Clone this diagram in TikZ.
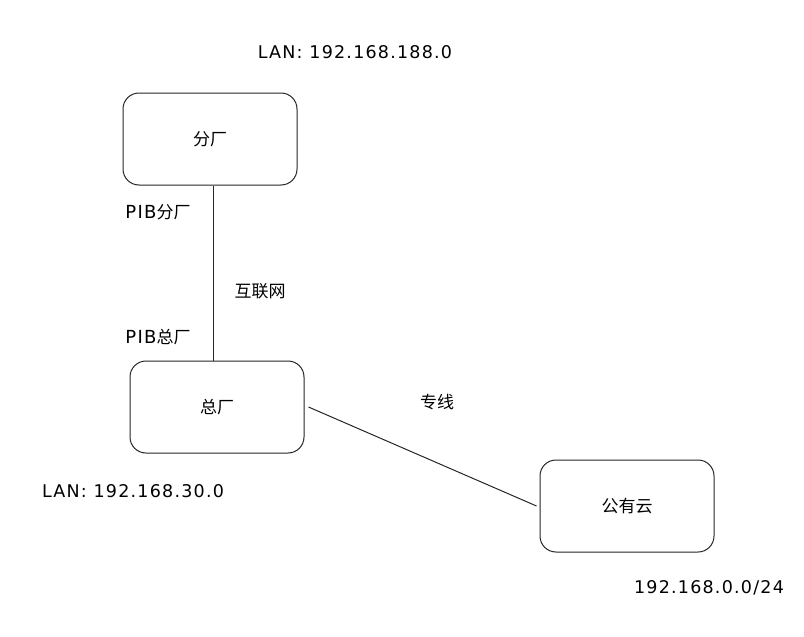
\documentclass[tikz,border=0pt]{standalone}
\usepackage{fontspec}
\setmainfont{Noto Sans CJK SC}
\newfontfamily\handfont[LetterSpace=7]{DejaVu Sans}

\begin{document}
\begin{tikzpicture}[x=1pt, y=-1pt,
    site/.style={rectangle, rounded corners=16pt, draw=black!85, line width=1pt,
        fill=white, minimum width=174pt, minimum height=92pt, inner sep=0pt,
        font=\fontsize{17}{20}\selectfont},
    tag/.style={font=\fontsize{17}{20}\selectfont, inner sep=0pt},
    ip/.style={font=\fontsize{17.5}{20}\handfont, inner sep=0pt},
    link/.style={line width=1pt, draw=black!85, -}
]
    \useasboundingbox (0,0) rectangle (804,637);
    \node[site] (branch) at (210,139) {分厂};
    \node[site] (hq) at (217,407) {总厂};
    \node[site] (cloud) at (627,506) {公有云};
    \node[ip] (lanbranch) at (355,52) {LAN: 192.168.188.0};
    \node[tag] (pibbranch) at (158,212) {{\fontsize{18}{20}\handfont PIB}分厂};
    \node[tag] (internet) at (260,291) {互联网};
    \node[tag] (pibhq) at (158,337) {{\fontsize{18}{20}\handfont PIB}总厂};
    \node[tag] (leased) at (437,402) {专线};
    \node[ip] (lanhq) at (133,491) {LAN: 192.168.30.0};
    \node[ip] (lancloud) at (709,588) {192.168.0.0/24};
    \draw[link] (branch.south -| 213,0) -- (hq.north -| 213,0);
    \draw[link] (hq.east) ++(4,0) coordinate (hqend) -- ([xshift=-3pt]cloud.west);
\end{tikzpicture}
\end{document}
